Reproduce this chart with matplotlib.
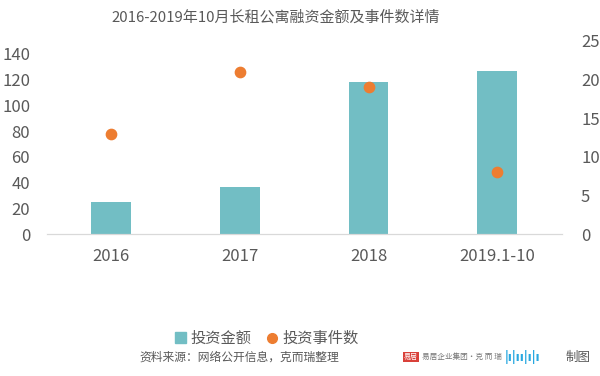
import matplotlib.pyplot as plt
from matplotlib.patches import Rectangle
from matplotlib.lines import Line2D

plt.rcParams['font.family'] = ['Noto Sans CJK SC', 'DejaVu Sans']

categories = ['2016', '2017', '2018', '2019.1-10']
amount = [25, 37, 118, 127]        # 投资金额 (left axis)
events = [13, 21, 19, 8]           # 投资事件数 (right axis)

teal = '#72BEC4'
orange = '#ED7D31'
grey = '#595959'

fig = plt.figure(figsize=(6, 3.76), dpi=100)
ax = fig.add_axes([0.078, 0.377, 0.858, 0.514])
ax2 = ax.twinx()

x = list(range(len(categories)))
ax.bar(x, amount, width=0.31, color=teal, zorder=2)
ax2.scatter(x, events, s=55, color=orange, zorder=3)

ax.set_xlim(-0.5, len(categories) - 0.5)
ax.set_ylim(0, 150)
ax.set_yticks(range(0, 141, 20))
ax2.set_ylim(0, 25)
ax2.set_yticks(range(0, 26, 5))
ax.set_xticks(x)
ax.set_xticklabels(categories)

for a in (ax, ax2):
    for s in ('top', 'left', 'right'):
        a.spines[s].set_visible(False)
    a.spines['bottom'].set_color('#D9D9D9')
    a.tick_params(length=0, labelsize=12, colors=grey)
ax.tick_params(axis='x', pad=10)
ax.tick_params(axis='y', pad=12)
ax2.tick_params(axis='y', pad=14)
ax2.set_zorder(ax.get_zorder() + 1)

fig.text(0.46, 0.955, '2016-2019年10月长租公寓融资金额及事件数详情',
         ha='center', va='center', fontsize=10.8, color=grey)

handles = [Rectangle((0, 0), 1, 1, color=teal),
           Line2D([], [], marker='o', linestyle='none', color=orange, markersize=7)]
fig.legend(handles, ['投资金额', '投资事件数'], loc='center', bbox_to_anchor=(0.445, 0.1),
           ncol=2, frameon=False, fontsize=11, labelcolor=grey,
           handlelength=0.7, handletextpad=0.3, columnspacing=1.0)

fig.text(0.232, 0.05, '资料来源：网络公开信息，克而瑞整理', ha='left', va='center',
         fontsize=8.5, color=grey)
fig.text(0.673, 0.05, '易居', ha='left', va='center', fontsize=5, color='white',
         bbox=dict(boxstyle='square,pad=0.15', fc='#D9413A', ec='none'))
fig.text(0.703, 0.05, '易居企业集团·克 而 瑞', ha='left', va='center', fontsize=5.5, color='#777777')
fig.text(0.842, 0.05, '|ı|ıı|ı|ı', ha='left', va='center', fontsize=9,
         fontweight='bold', color='#29A8E0')
fig.text(0.985, 0.05, '制图', ha='right', va='center', fontsize=9, color=grey)

fig.savefig('out.png', dpi=100)
